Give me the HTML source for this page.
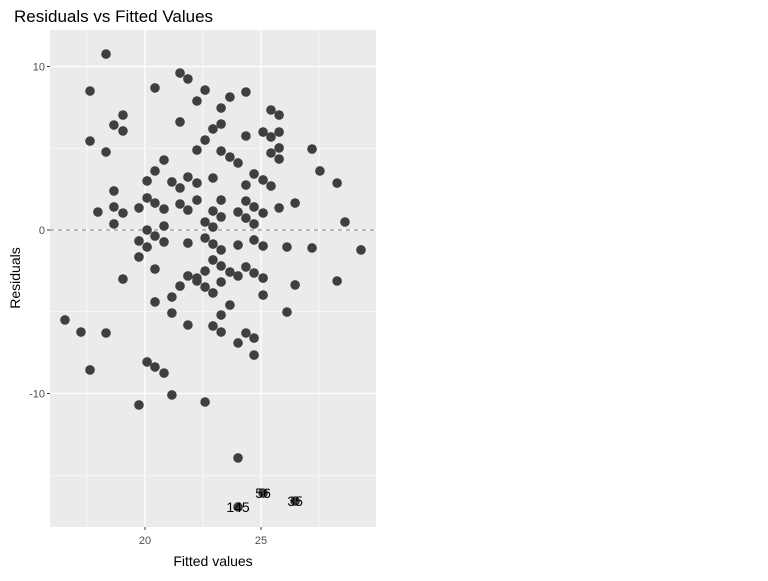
<!DOCTYPE html>
<html><head><meta charset="utf-8"><style>
body{margin:0;background:#fff;width:768px;height:576px;overflow:hidden;font-family:"Liberation Sans",Arial,sans-serif;}
</style></head><body>
<svg id="chart" width="768" height="576" xmlns="http://www.w3.org/2000/svg" font-family="Liberation Sans, Arial, sans-serif">
<rect x="0" y="0" width="768" height="576" fill="#fff"/>
<text x="14" y="22" font-size="17" fill="#000">Residuals vs Fitted Values</text>
<rect x="50" y="30" width="326" height="497" fill="#ebebeb"/>
<g id="grid"></g>
<g id="marks"></g>
<g id="axes"></g>
<text x="213" y="566" font-size="14" text-anchor="middle" fill="#000">Fitted values</text>
<text transform="translate(20,278) rotate(-90)" font-size="14" text-anchor="middle" fill="#000">Residuals</text>
</svg>
<script>
const fitted = [18.32,17.63,21.51,21.85,20.43,22.59,22.24,19.05,18.66,19.05,21.51,22.93,17.63,22.59,18.32,22.24,20.82,20.43,20.09,21.16,21.85,22.93,21.51,22.24,18.66,20.09,20.43,21.51,22.24,20.82,21.85,22.93,17.97,18.66,19.05,19.74,18.66,20.82,22.59,22.93,20.09,20.43,19.74,20.82,21.85,22.59,22.93,20.09,19.74,22.93,20.43,22.59,19.05,21.85,22.24,23.66,24.35,23.28,25.43,25.78,23.28,24.35,25.09,25.43,25.78,23.28,23.66,24.01,25.43,25.78,25.78,27.20,27.54,28.28,24.70,24.35,25.09,25.43,23.28,24.35,24.70,24.01,25.09,25.78,26.47,23.28,24.35,24.70,28.62,23.28,24.01,24.70,25.09,26.12,27.20,29.31,23.28,23.66,24.35,24.70,24.01,25.09,28.28,22.24,21.51,22.59,23.28,26.47,20.43,21.16,22.93,25.09,23.66,21.16,23.28,26.12,16.55,17.24,18.32,21.85,22.93,23.28,24.35,24.70,24.01,24.70,17.63,20.09,20.43,20.82,21.16,19.74,22.59,24.01,24.01,25.09,26.47];
const residuals = [10.76,8.50,9.60,9.24,8.69,8.56,7.89,7.03,6.42,6.06,6.61,6.18,5.44,5.50,4.77,4.89,4.28,3.61,3.00,2.94,3.24,3.18,2.57,2.87,2.39,1.96,1.65,1.59,1.83,1.28,1.22,1.16,1.10,1.41,1.04,1.35,0.37,0.24,0.49,0.18,0,-0.37,-0.67,-0.73,-0.80,-0.49,-0.86,-1.04,-1.65,-1.83,-2.39,-2.51,-3.00,-2.81,-2.94,8.13,8.44,7.46,7.34,7.03,6.48,5.75,5.99,5.69,5.99,4.83,4.46,4.10,4.71,4.34,5.02,4.95,3.61,2.87,3.43,2.75,3.06,2.69,1.83,1.77,1.41,1.10,1.04,1.35,1.65,0.80,0.73,0.37,0.49,-1.22,-0.92,-0.61,-0.98,-1.04,-1.10,-1.22,-2.20,-2.57,-2.26,-2.63,-2.81,-2.94,-3.12,-3.12,-3.43,-3.49,-3.18,-3.36,-4.40,-4.10,-3.85,-3.98,-4.59,-5.08,-5.20,-5.02,-5.50,-6.24,-6.30,-5.81,-5.87,-6.24,-6.30,-6.61,-6.91,-7.65,-8.56,-8.07,-8.38,-8.75,-10.09,-10.70,-10.52,-13.94,-16.94,-16.09,-16.58];
const pointLabels = ["145","56","35"];
const labelFitted = [24.01,25.09,26.47];
const labelResid = [-16.94,-16.09,-16.58];
const xTicks = [20,25];
const xMinor = [17.5,22.5,27.5];
const yTicks = [10,0,-10];
const yMinor = [5,-5,-15];

const NS='http://www.w3.org/2000/svg';
const px0=50,px1=376,py0=30,py1=527;
function xS(v){return 145+(v-20)*23.2;}
function yS(v){return 230-v*16.35;}
function mk(t,a,p){const e=document.createElementNS(NS,t);for(const k in a)e.setAttribute(k,a[k]);p.appendChild(e);return e;}
const grid=document.getElementById('grid'),marks=document.getElementById('marks'),axes=document.getElementById('axes');
xMinor.forEach(v=>{const l=mk('line',{x1:xS(v),x2:xS(v),y1:py0,y2:py1,stroke:'#fff','stroke-width':0.6},grid);

});
yMinor.forEach(v=>{const l=mk('line',{x1:px0,x2:px1,y1:yS(v),y2:yS(v),stroke:'#fff','stroke-width':0.6},grid);

});
xTicks.forEach(v=>{const l=mk('line',{x1:xS(v),x2:xS(v),y1:py0,y2:py1,stroke:'#fff','stroke-width':1.2},grid);


const tk=mk('line',{x1:xS(v),x2:xS(v),y1:py1,y2:py1+3,stroke:'#333','stroke-width':1},axes);


const t=mk('text',{x:xS(v),y:py1+17,'font-size':11,'text-anchor':'middle',fill:'#4d4d4d'},axes);t.textContent=v;

});
yTicks.forEach(v=>{const l=mk('line',{x1:px0,x2:px1,y1:yS(v),y2:yS(v),stroke:'#fff','stroke-width':1.2},grid);


const tk=mk('line',{x1:px0-3,x2:px0,y1:yS(v),y2:yS(v),stroke:'#333','stroke-width':1},axes);


const t=mk('text',{x:px0-5,y:yS(v)+4,'font-size':11,'text-anchor':'end',fill:'#4d4d4d'},axes);t.textContent=v;

});
const zl=mk('line',{x1:px0,x2:px1,y1:yS(0),y2:yS(0),stroke:'#808080','stroke-width':1,'stroke-dasharray':'4,4'},marks);


fitted.forEach((f,i)=>{const c=mk('circle',{cx:xS(f),cy:yS(residuals[i]),r:4.8,fill:'#3f3f3f'},marks);

});
pointLabels.forEach((s,i)=>{const t=mk('text',{x:xS(labelFitted[i]),y:yS(labelResid[i])+5,'font-size':14,'text-anchor':'middle',fill:'#000'},marks);t.textContent=s;

});
</script>
</body></html>
